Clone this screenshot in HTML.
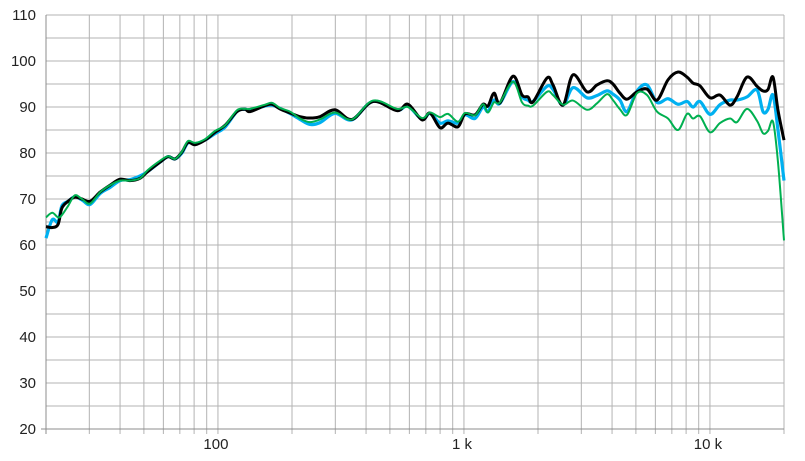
<!DOCTYPE html>
<html><head><meta charset="utf-8"><style>
html,body{margin:0;padding:0;background:#fff}
svg{display:block;font-family:"Liberation Sans",Arial,sans-serif}
</style></head><body>
<svg id="chart" width="805" height="461" viewBox="0 0 805 461">
<g id="grid"></g>
<g id="axes"></g>
<g id="series"></g>
</svg>
<script>
const freqs=[20,21.2,22.4,23.2,24.6,26.2,28.0,30.2,33.2,36.4,40.0,43.9,48.2,51.9,58.1,62.7,66.9,71.4,75.5,80.7,88.6,97.3,106.8,119.5,128.8,135.0,155.3,165.9,178.7,196.3,215.6,236.7,259.9,299.1,350.6,426.9,534.4,592.2,675.2,727.8,799,861,946,1010,1109,1195,1252,1325,1401,1583,1722,1821,1909,2176,2301,2527,2775,3164,3474,3815,4035,4309,4602,5052,5548,6092,6752,7417,8068,8535,9111,10005,10985,12064,12880,14146,15534,16430,17218,18043,18906,20000];
const blackVals=[64,63.8,64.5,68,69.5,70.4,70,69.5,71.5,73,74.3,74,74.5,76,78,79.2,78.7,80.2,82.3,81.8,82.8,84.5,86,89,89.5,89.0,90.3,90.6,89.6,88.7,87.9,87.6,87.9,89.4,87.3,91.2,89.2,90.6,87.2,88.7,85.5,86.5,85.7,88.5,88.3,90.6,90.2,93,90.9,96.7,92.6,92.2,91.1,96.3,94.8,90.4,97,93.3,94.8,95.7,95,93,91.7,93.3,93.9,91.5,95.9,97.6,96.5,95.2,94.6,92,92.6,90.4,92.2,96.5,94.5,93.5,93.8,96.5,89.3,82.8];
const blueVals=[61.5,65.5,65,68.5,69.5,70.5,69.8,68.8,71.2,72.5,74,74.2,75,76,78,79.2,78.7,80,82.2,82,82.8,84.2,85.6,89,89.5,89.3,90.2,90.4,89.7,88.6,87.3,86.2,86.6,88.6,87.2,91.2,89.3,90.2,87.3,88.6,86.5,87,86.5,88.3,87.5,90,89,91.5,90.8,95.5,92.2,91.5,91.2,94.5,93.8,90.4,94.2,92,92.5,93.5,92.8,91.5,89,93.5,94.8,91,91.8,90.6,91.2,90,91.2,88.4,90.5,91.5,91.5,92.2,93.7,89,89.5,92.6,85,74];
const greenVals=[66,67,66,66.5,68.5,70.8,70,69,71.5,73,74,74,74.5,76.3,78.3,79.3,78.7,80.3,82.6,82.2,83,84.8,86,89.3,89.6,89.6,90.5,90.9,89.8,89,87.5,86.7,87.3,88.8,87.3,91.4,89.6,90,87.6,88.8,87.8,88.5,86.8,88.7,88.2,90.6,88.8,91,91,95.5,91,90.3,90.3,93.3,92.6,90.5,91.4,89.4,90.8,92.8,91.5,89.5,88.3,93,92.6,89,87.5,85,88.5,87.5,88,84.5,86.5,87.5,86.7,89.6,87,84.3,84.8,86.8,78,61];
const yTicks=[20,30,40,50,60,70,80,90,100,110];
const xLabels=["100","1 k","10 k"];
const xLabelFreqs=[100,1000,10000];

const NS="http://www.w3.org/2000/svg";
const L=46,R=784,T=15,B=429,fMin=20,fMax=20000,yMin=20,yMax=110;
function xs(f){return L+(Math.log10(f)-Math.log10(fMin))/(Math.log10(fMax)-Math.log10(fMin))*(R-L);}
function ys(v){return B-(v-yMin)/(yMax-yMin)*(B-T);}
function mk(tag,attrs,parent){const e=document.createElementNS(NS,tag);for(const k in attrs)e.setAttribute(k,attrs[k]);parent.appendChild(e);return e;}
const grid=document.getElementById('grid'),axes=document.getElementById('axes'),series=document.getElementById('series');
for(let v=yMin;v<=yMax;v+=5){
  const ln=mk('line',{x1:L,x2:R,y1:ys(v),y2:ys(v),stroke:'#b3b3b3','stroke-width':1},grid);
  
  
}
for(let d=10;d<=10000;d*=10){for(let m=1;m<10;m++){const f=d*m;if(f<fMin||f>fMax)continue;
  const ln=mk('line',{x1:xs(f),x2:xs(f),y1:T,y2:B+5,stroke:'#b3b3b3','stroke-width':1},grid);
  
  
}}
const bl=mk('line',{x1:xs(fMax),x2:xs(fMax),y1:T,y2:B+5,stroke:'#b3b3b3','stroke-width':1},grid);


const yaxis=mk('line',{x1:L,x2:L,y1:T,y2:B+5,stroke:'#8c8c8c','stroke-width':1},axes);


const xaxis=mk('line',{x1:L-5,x2:R,y1:B,y2:B,stroke:'#8c8c8c','stroke-width':1},axes);


yTicks.forEach(v=>{
  const t=mk('text',{x:36,y:ys(v)+5,'text-anchor':'end','font-size':15,fill:'#222'},axes);
  t.textContent=v;
  
  
});
xLabels.forEach((s,i)=>{
  const t=mk('text',{x:xs(xLabelFreqs[i])-2,y:449,'text-anchor':'middle','font-size':15,fill:'#222'},axes);
  t.textContent=s;
  
  
});
function path(vals){
  const p=freqs.map((f,i)=>[xs(f),ys(vals[i])]);
  let d='M'+p[0][0].toFixed(2)+','+p[0][1].toFixed(2);
  for(let i=0;i<p.length-1;i++){
    const p0=p[Math.max(0,i-1)],p1=p[i],p2=p[i+1],p3=p[Math.min(p.length-1,i+2)];
    const c1=[p1[0]+(p2[0]-p0[0])/6,p1[1]+(p2[1]-p0[1])/6];
    const c2=[p2[0]-(p3[0]-p1[0])/6,p2[1]-(p3[1]-p1[1])/6];
    d+='C'+c1[0].toFixed(2)+','+c1[1].toFixed(2)+' '+c2[0].toFixed(2)+','+c2[1].toFixed(2)+' '+p2[0].toFixed(2)+','+p2[1].toFixed(2);
  }
  return d;
}
const s1=mk('path',{d:path(blueVals),fill:'none',stroke:'#00b0f0','stroke-width':3.2,'stroke-linejoin':'round'},series);


const s2=mk('path',{d:path(blackVals),fill:'none',stroke:'#000','stroke-width':3,'stroke-linejoin':'round'},series);


const s3=mk('path',{d:path(greenVals),fill:'none',stroke:'#00b050','stroke-width':2,'stroke-linejoin':'round'},series);


</script>
</body></html>
